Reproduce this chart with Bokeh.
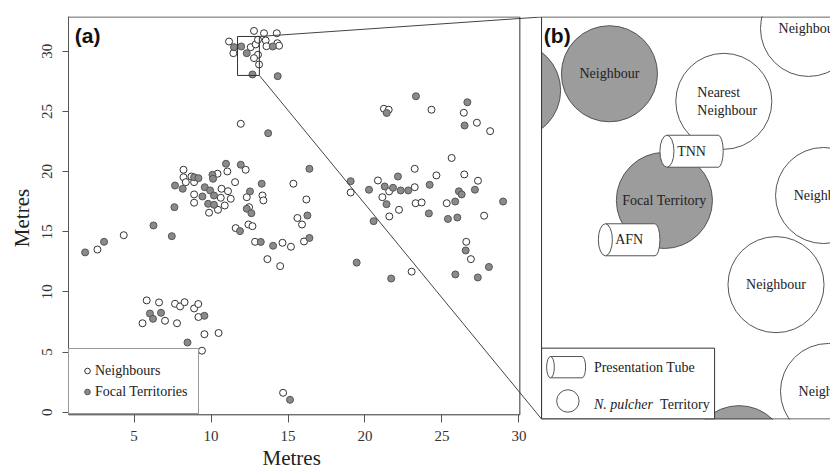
import math
from bokeh.plotting import figure
from bokeh.models import Range1d, FixedTicker, Legend, LegendItem, Label, Title
from bokeh.core.properties import value
from bokeh.embed import file_html
from bokeh.resources import INLINE

# ---------------- Panel (a): territory positions (metres) ----------------
neigh_x = [11.17, 11.45, 12.58, 12.79, 12.90, 13.05, 13.05, 12.79, 13.12, 13.44, 13.55, 13.60, 14.27, 14.31, 14.42, 11.93,
           2.62, 4.33,
           8.21, 8.21, 8.36, 8.73, 8.90, 8.90, 8.90, 9.87, 10.45, 10.42, 10.63, 10.68, 11.10, 11.28, 10.89, 11.06, 12.25,
           11.56, 12.32, 12.47, 13.34, 13.40, 11.60, 12.43, 12.69,
           15.35, 16.19, 15.61, 15.91, 16.04, 12.86, 14.64, 15.19, 13.66, 14.49, 14.68,
           19.07, 20.84, 21.13, 21.57, 21.23, 21.54, 22.21, 21.58, 23.23, 23.23, 23.29, 23.68, 24.32, 24.64, 25.31, 25.63,
           26.42, 26.45, 27.27, 27.34, 27.74, 28.13, 23.03, 26.58, 26.88,
           5.82, 6.62, 7.66, 7.99, 8.28, 8.90, 9.17, 7.01, 5.55, 7.79, 9.18, 9.57, 10.49, 9.41]
neigh_y = [30.81, 29.84, 30.34, 31.69, 30.57, 30.96, 29.71, 29.43, 28.90, 31.50, 30.90, 30.42, 31.50, 30.67, 30.46, 23.97,
           13.52, 14.71,
           20.15, 19.53, 19.12, 19.59, 19.12, 18.10, 17.41, 16.58, 16.82, 19.82, 17.82, 18.57, 18.37, 17.74, 17.18, 20.01, 20.15,
           19.12, 17.87, 17.04, 18.01, 17.60, 15.30, 15.60, 15.46,
           18.99, 17.68, 16.14, 15.60, 14.19, 14.16, 14.08, 13.75, 12.72, 12.14, 1.61,
           18.26, 19.26, 17.87, 18.35, 25.22, 25.14, 16.82, 16.27, 20.23, 18.70, 17.37, 17.43, 25.14, 19.68, 17.37, 21.13,
           24.89, 19.76, 24.06, 19.24, 16.33, 23.36, 11.68, 14.16, 12.72,
           9.29, 9.12, 9.01, 8.79, 9.14, 8.62, 8.99, 7.60, 7.39, 7.39, 7.91, 6.48, 6.58, 5.11]

focal_x = [11.49, 11.96, 12.32, 12.69, 14.01, 14.33, 13.71,
           1.82, 3.05, 6.26, 7.45, 7.62,
           7.66, 8.16, 8.90, 9.18, 9.44, 9.59, 9.94, 9.81, 10.19, 10.09, 10.13, 10.19, 10.97, 11.93, 12.53, 12.32, 12.62,
           13.29, 11.88,
           16.39, 16.26, 16.39, 13.23, 14.03, 15.13,
           19.07, 20.26, 21.28, 21.40, 21.41, 21.82, 22.32, 22.81, 23.31, 22.14, 20.56, 24.15, 24.20, 25.39, 26.00, 25.86,
           26.10, 26.28, 26.65, 26.47, 27.14, 28.97, 19.46, 21.70, 26.54, 25.87, 27.33, 28.05,
           6.03, 6.23, 6.75, 9.57, 8.47]
focal_y = [30.34, 30.40, 29.84, 28.07, 30.40, 27.93, 23.19,
           13.28, 14.16, 15.52, 14.63, 17.04,
           18.84, 18.57, 19.53, 19.45, 17.93, 18.70, 18.43, 17.32, 17.24, 19.73, 19.40, 18.01, 20.65, 20.57, 18.35, 16.91, 16.54,
           18.99, 15.05,
           20.23, 16.35, 14.48, 14.15, 13.83, 1.03,
           19.20, 18.49, 18.76, 17.29, 24.87, 18.65, 18.43, 18.43, 26.26, 19.59, 15.88, 16.52, 18.90, 16.06, 16.18, 17.51,
           18.36, 18.10, 25.76, 23.83, 18.49, 17.51, 12.43, 11.11, 13.44, 11.45, 11.20, 12.07,
           8.20, 7.76, 8.26, 8.01, 5.79]

x_ticks = [5, 10, 15, 20, 25, 30]
y_ticks = [0, 5, 10, 15, 20, 25, 30]
legend_labels = ["Neighbours", "Focal Territories"]
axis_title = "Metres"

# zoomed-in area shown in panel (b): x0, x1, y0, y1 (metres)
zoom_area = [11.72, 13.14, 27.99, 31.23]

# ---------------- Panel (b): schematic ----------------
terr_x = [29.59, 35.88, 43.31, 48.81, 39.45, 49.79, 46.70, 50.11, 44.30]
terr_y = [26.74, 28.13, 25.84, 31.90, 17.60, 18.01, 10.60, 1.72, -3.45]
terr_kind = ["focal", "focal", "neigh", "neigh", "focal", "neigh", "neigh", "neigh", "focal"]
terr_label = ["", "Neighbour", "Nearest\nNeighbour", "Neighbour", "Focal Territory",
              "Neighbour", "Neighbour", "Neighbour", ""]
terr_r = 3.12

tube_label = ["TNN", "AFN"]
tube_x0 = [39.16, 35.16]
tube_x1 = [43.27, 39.16]
tube_y = [21.69, 14.33]
tube_h = 2.66

legend_b_labels = ["Presentation Tube", "N. pulcher", "Territory"]

# ---------------- layout / style ----------------
X_RANGE = (0.74, 50.24)
Y_RANGE = (-0.61, 32.89)
PANEL_A = dict(left=0.74, right=30.06, bottom=-0.22, top=32.85)
PANEL_B = dict(left=31.47, right=52.0, bottom=-0.57, top=32.85)
LEG_B = dict(left=31.47, right=42.71, bottom=-0.57, top=5.32)

LINE = "#444444"
GRAY_PT = "#8a8a8a"
GRAY_TERR = "#9c9c9c"
SERIF = "Liberation Serif"
TXT = "#222222"

p = figure(width=830, height=473, x_range=Range1d(*X_RANGE), y_range=Range1d(*Y_RANGE),
           output_backend="svg", toolbar_location=None,
           min_border_left=68, min_border_right=0, min_border_top=16, min_border_bottom=54)
p.xgrid.visible = False
p.ygrid.visible = False
p.outline_line_color = None
p.background_fill_color = "white"
p.border_fill_color = "white"

# axes
xa = p.xaxis[0]
xa.ticker = FixedTicker(ticks=x_ticks)
xa.bounds = (PANEL_A["left"], PANEL_A["right"])
xa.axis_line_color = None
xa.major_tick_in = 5
xa.major_tick_out = 3
xa.minor_tick_out = 0
xa.minor_tick_in = 0
xa.major_tick_line_color = "#555555"
xa.major_label_text_font = SERIF
xa.major_label_text_font_size = "15px"
xa.major_label_text_color = "#333333"
xa.major_label_standoff = 8

ya = p.yaxis[0]
ya.ticker = FixedTicker(ticks=y_ticks)
ya.bounds = (PANEL_A["bottom"], Y_RANGE[1])
ya.axis_line_color = "#555555"
ya.major_tick_in = 0
ya.major_tick_out = 6
ya.minor_tick_out = 0
ya.minor_tick_in = 0
ya.major_tick_line_color = "#555555"
ya.major_label_text_font = SERIF
ya.major_label_text_font_size = "15px"
ya.major_label_text_color = "#333333"
ya.major_label_orientation = "vertical"
ya.major_label_standoff = 10
ya.axis_label = axis_title
ya.axis_label_text_font = SERIF
ya.axis_label_text_font_size = "21px"
ya.axis_label_text_font_style = "normal"
ya.axis_label_text_color = TXT
ya.axis_label_standoff = 6

# x-axis title of panel (a), placed under the panel (a) part of the axis
p.add_layout(Title(text=axis_title, align="left", offset=194, standoff=0,
                   text_font=SERIF, text_font_size="21px", text_font_style="normal",
                   text_color=TXT), "below")

# ---- panel (b) territories ----
fills = [GRAY_TERR if k == "focal" else "white" for k in terr_kind]
p.circle(x=terr_x, y=terr_y, radius=terr_r, fill_color=fills, line_color="#555555", line_width=1)

lx, ly, lt, lyo, lxo, lal = [], [], [], [], [], []
for x, y, t in zip(terr_x, terr_y, terr_label):
    if not t:
        continue
    lines = t.split("\n")
    n = len(lines)
    for i, ln in enumerate(lines):
        lx.append(x)
        ly.append(y)
        lt.append(ln)
        lyo.append((i - (n - 1) / 2) * 18)
        if n > 1:
            lxo.append(-26.5)
            lal.append("left")
        else:
            lxo.append(0)
            lal.append("center")
p.text(x=lx, y=ly, text=lt, x_offset=lxo, y_offset=lyo, text_align=lal, text_baseline="middle",
       text_font=value(SERIF), text_font_size="14px", text_color=TXT)


def draw_tubes(x0s, x1s, ys, h, cap_l, cap_r):
    xl = [a + cap_l / 2 for a in x0s]
    xr = [b - cap_r / 2 for b in x1s]
    tops = [y + h / 2 for y in ys]
    bots = [y - h / 2 for y in ys]
    p.ellipse(x=xr, y=ys, width=cap_r, height=h, fill_color="white", line_color="#555555", line_width=1)
    p.quad(left=xl, right=xr, bottom=bots, top=tops, fill_color="white", line_color=None)
    p.segment(x0=xl, x1=xr, y0=tops, y1=tops, line_color="#555555", line_width=1)
    p.segment(x0=xl, x1=xr, y0=bots, y1=bots, line_color="#555555", line_width=1)
    p.ellipse(x=xl, y=ys, width=cap_l, height=h, fill_color="white", line_color="#555555", line_width=1)


draw_tubes(tube_x0, tube_x1, tube_y, tube_h, 0.91, 0.65)
p.text(x=[(a + b) / 2 for a, b in zip(tube_x0, tube_x1)], y=tube_y, text=tube_label,
       text_align="center", text_baseline="middle", text_font=value(SERIF), text_font_size="14px", text_color=TXT)

# panel (b) legend
p.quad(left=[LEG_B["left"]], right=[LEG_B["right"]], bottom=[LEG_B["bottom"]], top=[LEG_B["top"]],
       fill_color="white", line_color="#333333", line_width=1)
leg_tube_x0, leg_tube_x1, leg_tube_y, leg_tube_h = 31.80, 34.33, 3.74, 1.77
draw_tubes([leg_tube_x0], [leg_tube_x1], [leg_tube_y], leg_tube_h, 0.5, 0.45)
p.circle(x=[33.18], y=[0.93], radius=0.73, fill_color="white", line_color="#555555", line_width=1)
p.text(x=[34.87], y=[3.72], text=[legend_b_labels[0]], text_align="left", text_baseline="middle",
       text_font=value(SERIF), text_font_size="14px", text_color=TXT)
p.text(x=[34.87], y=[0.64], text=[legend_b_labels[1]], text_align="left", text_baseline="middle",
       text_font=value(SERIF), text_font_size="14px", text_font_style="italic", text_color=TXT)
p.text(x=[39.17], y=[0.64], text=[legend_b_labels[2]], text_align="left", text_baseline="middle",
       text_font=value(SERIF), text_font_size="14px", text_color=TXT)

# cover anything of panel (b) that spills left of its frame
p.quad(left=[X_RANGE[0] - 2], right=[PANEL_B["left"]], bottom=[Y_RANGE[0] - 2], top=[Y_RANGE[1] + 2],
       fill_color="white", line_color=None)

# panel (b) frame
p.quad(left=[PANEL_B["left"]], right=[PANEL_B["right"]], bottom=[PANEL_B["bottom"]], top=[PANEL_B["top"]],
       fill_color=None, line_color="#333333", line_width=1)

# ---- panel (a) ----
r_open = p.scatter(x=neigh_x, y=neigh_y, marker="circle", size=7, fill_color="white",
                   line_color="#333333", line_width=1)
r_fill = p.scatter(x=focal_x, y=focal_y, marker="circle", size=7, fill_color=GRAY_PT,
                   line_color="#555555", line_width=1)

p.quad(left=[zoom_area[0]], right=[zoom_area[1]], bottom=[zoom_area[2]], top=[zoom_area[3]],
       fill_color=None, line_color="#333333", line_width=1)
p.segment(x0=[zoom_area[1], zoom_area[1]], y0=[zoom_area[3], zoom_area[2]],
          x1=[PANEL_B["left"], PANEL_B["left"]], y1=[PANEL_B["top"], PANEL_B["bottom"]],
          line_color=LINE, line_width=1)

p.quad(left=[PANEL_A["left"]], right=[PANEL_A["right"]], bottom=[PANEL_A["bottom"]], top=[PANEL_A["top"]],
       fill_color=None, line_color="#333333", line_width=1)

legend = Legend(items=[LegendItem(label=legend_labels[0], renderers=[r_open]),
                       LegendItem(label=legend_labels[1], renderers=[r_fill])],
                location=(0, 5), orientation="vertical",
                glyph_width=14, glyph_height=21, label_height=21, spacing=0, padding=11,
                label_standoff=1, margin=0,
                label_text_font=SERIF, label_text_font_size="14px", label_text_color=TXT,
                border_line_color="#333333", border_line_width=1,
                background_fill_color="white", background_fill_alpha=1.0)
p.add_layout(legend)

p.add_layout(Label(x=1.15, y=31.31, text="(a)", text_font="Liberation Sans", text_font_size="21px",
                   text_font_style="bold", text_baseline="middle", text_align="left", text_color="#111111"))
p.add_layout(Label(x=31.62, y=31.31, text="(b)", text_font="Liberation Sans", text_font_size="21px",
                   text_font_style="bold", text_baseline="middle", text_align="left", text_color="#111111"))

open("out.html", "w").write(file_html(p, INLINE))
